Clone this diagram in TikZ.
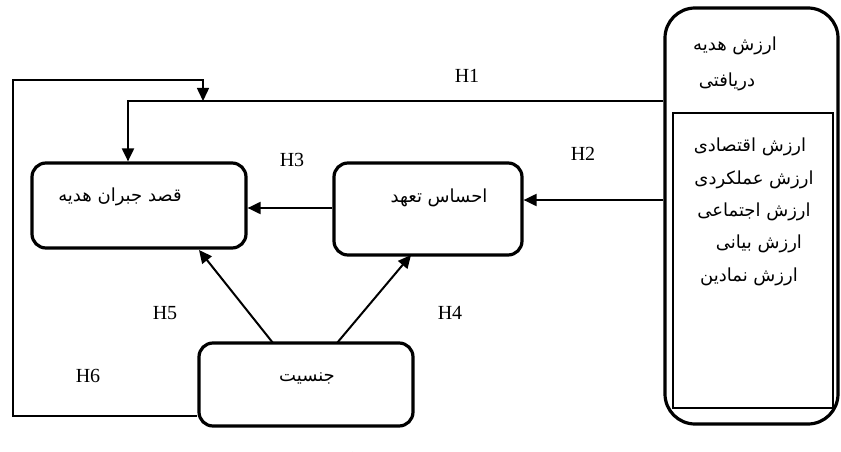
\documentclass[tikz,border=0pt]{standalone}
\usepackage{fontspec}
\setmainfont{Liberation Serif}
\newfontfamily\fa[Script=Arabic]{DejaVu Sans}
\TeXXeTstate=1
\usetikzlibrary{arrows.meta}
\tikzset{
  bigbox/.style={draw, line width=3.2pt, rounded corners=14pt, inner sep=0pt},
  conn/.style={line width=2pt, -{Triangle[length=13pt,width=12pt]}},
  thinconn/.style={line width=1.5pt, -{Triangle[length=13pt,width=12pt]}},
  hlab/.style={font=\fontsize{20}{23}\selectfont, inner sep=0pt},
  fatext/.style={font=\fa\fontsize{18}{21}\selectfont, inner sep=0pt},
}
\begin{document}
\begin{tikzpicture}[x=1pt,y=-1pt]
\useasboundingbox (0,0) rectangle (841,452);
% boxes
\node[bigbox, minimum width=214, minimum height=85] (qasd) at (139,205.5) {};
\node[bigbox, minimum width=188, minimum height=92] (ehsas) at (428,209) {};
\node[bigbox, minimum width=214, minimum height=83] (jens) at (306,384.5) {};
\node[draw, line width=3.2pt, rounded corners=30pt, minimum width=173, minimum height=416, inner sep=0pt] (rbox) at (751.5,216) {};
\node[draw, line width=1.3pt, minimum width=160, minimum height=295, inner sep=0pt] (inner) at (753,260.5) {};
% box texts
\node[fatext] (tq) at (120,197) {\beginR قصد جبران هدیه\endR};
\node[fatext] (te) at (439,198) {\beginR احساس تعهد\endR};
\node[fatext] (tj) at (307,378) {\beginR جنسیت\endR};
\node[fatext] (tr1) at (735,46) {\beginR ارزش هدیه\endR};
\node[fatext] (tr2) at (727,82) {\beginR دریافتی\endR};
\node[fatext] (i1) at (750,147) {\beginR ارزش اقتصادی\endR};
\node[fatext] (i2) at (754,180) {\beginR ارزش عملکردی\endR};
\node[fatext] (i3) at (754,212) {\beginR ارزش اجتماعی\endR};
\node[fatext] (i4) at (759,244) {\beginR ارزش بیانی\endR};
\node[fatext] (i5) at (749,277) {\beginR ارزش نمادین\endR};
% labels
\node[hlab] (l1) at (467,76) {H1};
\node[hlab] (l2) at (583,154) {H2};
\node[hlab] (l3) at (292,160) {H3};
\node[hlab] (l4) at (450,313) {H4};
\node[hlab] (l5) at (165,313) {H5};
\node[hlab] (l6) at (88,376) {H6};
% connector coordinates
\coordinate (h1turn) at (128,101);
\coordinate (h2y) at (600,200);
\coordinate (h3y) at (290,208);
\coordinate (h6a) at (13,416);
\coordinate (h6b) at (13,80);
\coordinate (h6c) at (203,80);
\coordinate (h5s) at (273,343);
\coordinate (h5e) at (199,250);
\coordinate (h4s) at (337,343);
\coordinate (h4e) at (411,255);
% connectors
\draw[conn] (rbox.west |- h1turn) -- (h1turn) -- (qasd.north -| h1turn);
\draw[thinconn] (jens.west |- h6a) -- (h6a) -- (h6b) -- (h6c) -- (h6c |- h1turn);
\draw[conn] (rbox.west |- h2y) -- (ehsas.east |- h2y);
\draw[conn] (ehsas.west |- h3y) -- (qasd.east |- h3y);
\draw[conn] (h5s) -- (h5e);
\draw[conn] (h4s) -- (h4e);
% caption (cut off at the bottom edge, as in the reference)
\begin{scope}
\clip (0,0) rectangle (841,452);
\node[fatext] (cap) at (312,463) {\beginR شکل ۱. الگوی مفهومی پژوهش\endR};
\end{scope}
\end{tikzpicture}
\end{document}
